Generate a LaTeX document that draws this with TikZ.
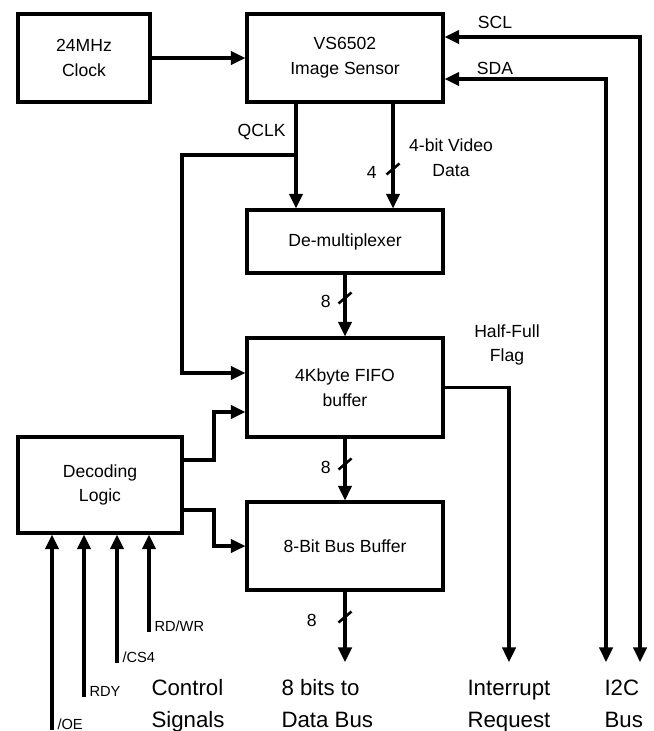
\documentclass[tikz,border=0pt]{standalone}
\usepackage{fontspec}
\setmainfont{Liberation Sans}
\usetikzlibrary{arrows.meta,calc}
\begin{document}
\begin{tikzpicture}[x=0.03cm,y=-0.03cm,line join=miter,>={Triangle[length=12.5pt,width=11.5pt]},line width=2.6pt]
	\tikzset{block/.style={draw,line width=2.6pt,align=center,font=\fontsize{15}{21.25}\selectfont},
		lbl/.style={font=\fontsize{15}{21.25}\selectfont,align=center},
		sig/.style={font=\fontsize{12.5}{15}\selectfont,anchor=base west,inner sep=0pt},
		big/.style={font=\fontsize{19}{27.2}\selectfont,align=left,anchor=base west,inner sep=0pt},
		tick/.style={line width=2.2pt}}
	\useasboundingbox (0,0) rectangle (654,731);
	% blocks
	\node[block,minimum width=3.96cm,minimum height=2.64cm] (clock) at (84,58) {24MHz\\Clock};
	\node[block,minimum width=5.88cm,minimum height=2.64cm] (sensor) at (345,58) {VS6502\\Image Sensor};
	\node[block,minimum width=5.88cm,minimum height=1.89cm] (demux) at (345,241.5) {De-multiplexer};
	\node[block,minimum width=5.88cm,minimum height=2.97cm] (fifo) at (345,387.5) {4Kbyte FIFO\\buffer};
	\node[block,minimum width=4.92cm,minimum height=2.88cm] (decode) at (100,485) {Decoding\\Logic};
	\node[block,minimum width=5.88cm,minimum height=2.64cm] (busbuf) at (345,546) {8-Bit Bus Buffer};
	% free ends
	\coordinate (qclk) at (296,155);
	\coordinate (vid) at (393,169);
	\coordinate (dataout) at (345,662);
	\coordinate (irq) at (509,662);
	\coordinate (sdaend) at (606,662);
	\coordinate (sclend) at (640,662);
	\coordinate (oe) at (52,730);
	\coordinate (rdy) at (84,697);
	\coordinate (cs) at (117,663);
	\coordinate (rdwr) at (149,632);
	% connectors
	\draw[->] (clock) -- (sensor);
	\draw[<->] (sensor.east |- 0,37) -| (sclend);
	\draw[<->] (sensor.east |- 0,79) -| (sdaend);
	\node[lbl] (scl) at (495,22) {SCL};
	\node[lbl] (sda) at (495,68) {SDA};
	\draw[->] (sensor.south -| qclk) -- (demux.north -| qclk);
	\draw[->] (qclk) -| (182,373) -- (fifo.west |- 0,373);
	\node[lbl,anchor=east] (qclklbl) at (291,132) {QCLK};
	\draw[->] (sensor.south -| vid) -- (demux.north -| vid);
	\draw[tick] ($(vid)+(-6.5,5.5)$) -- ($(vid)+(6.5,-5.5)$);
	\node[lbl,anchor=east] (four) at (382,172) {4};
	\node[lbl] (vidlbl) at (451,158) {4-bit Video\\Data};
	\draw[->] (demux) -- (fifo);
	\coordinate (b1) at (345,298);
	\draw[tick] ($(b1)+(-6.5,5.5)$) -- ($(b1)+(6.5,-5.5)$);
	\node[lbl,anchor=east] (eight1) at (336,301) {8};
	\draw[->] (fifo.east) -| (irq);
	\node[lbl] (hf) at (507,345) {Half-Full\\Flag};
	\draw[->] (decode.east |- 0,460) -| (214,412) -- (fifo.west |- 0,412);
	\draw[->] (decode.east |- 0,510) -| (214,546) -- (busbuf.west);
	\draw[->] (fifo) -- (busbuf);
	\coordinate (b2) at (345,464);
	\draw[tick] ($(b2)+(-6.5,5.5)$) -- ($(b2)+(6.5,-5.5)$);
	\node[lbl,anchor=east] (eight2) at (336,467) {8};
	\draw[->] (busbuf) -- (dataout);
	\coordinate (b3) at (345,617);
	\draw[tick] ($(b3)+(-6.5,5.5)$) -- ($(b3)+(6.5,-5.5)$);
	\node[lbl,anchor=east] (eight3) at (322,620) {8};
	% control lines
	\foreach \s/\t in {oe/{/OE},rdy/{RDY},cs/{/CS4},rdwr/{RD/WR}}{
		\draw[->] (\s) -- (\s |- decode.south);
		\node[sig] (\s lbl) at ($(\s)+(4,-1)$) {\t};
	}
	% bottom captions
	\node[big] (ctrl) at (150,727) {Control\\Signals};
	\node[big] (databus) at (280,727) {8 bits to\\Data Bus};
	\node[big] (intreq) at (466,727) {Interrupt\\Request};
	\node[big] (i2c) at (603,727) {I2C\\Bus};
\end{tikzpicture}
\end{document}
